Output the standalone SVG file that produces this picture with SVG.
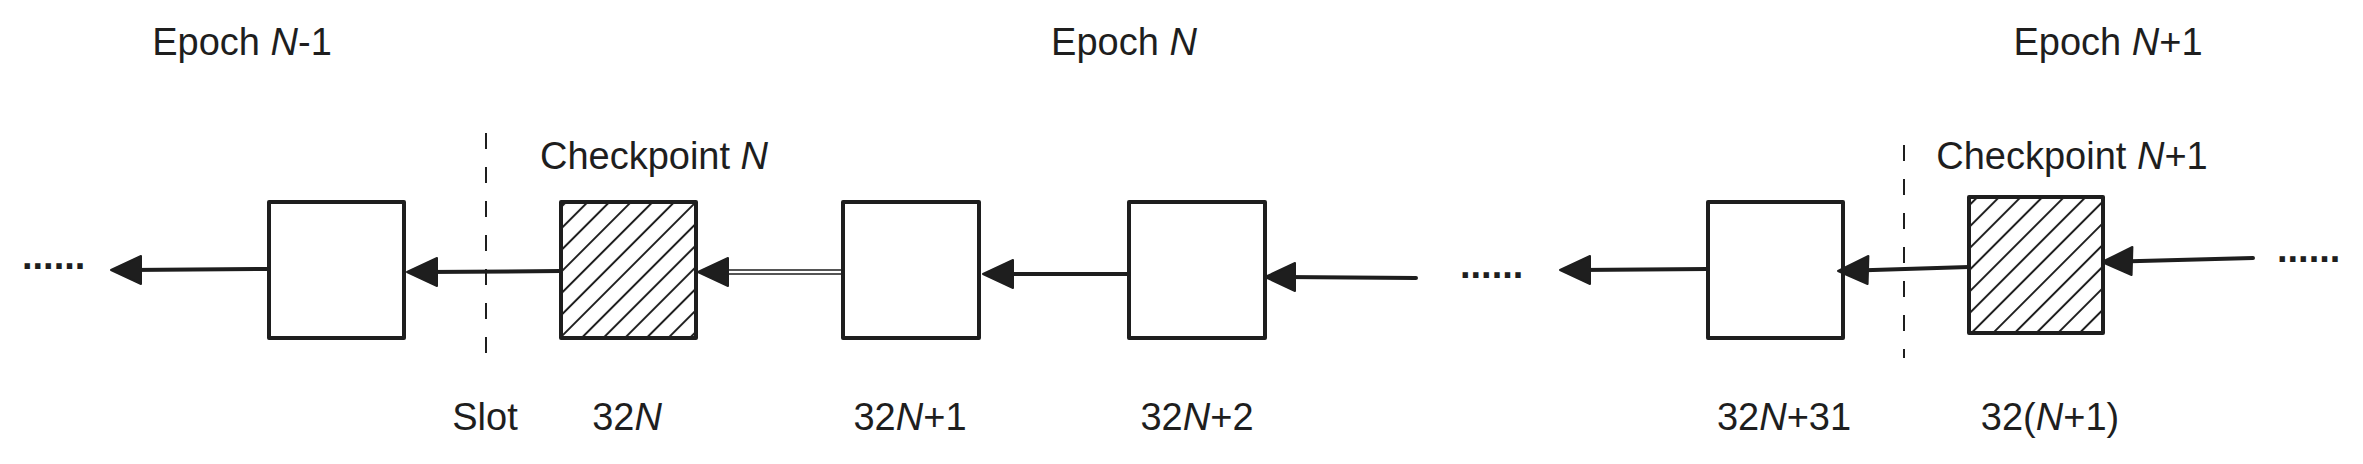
<svg xmlns="http://www.w3.org/2000/svg" width="2363" height="464" viewBox="0 0 2363 464">
  <style>
    .bg { fill: #ffffff; }
    .box { fill: #ffffff; stroke: #1e1e1e; stroke-width: 4; stroke-linejoin: round; }
    .hbox { fill: url(#hatch); stroke: #1e1e1e; stroke-width: 4; stroke-linejoin: round; }
    .txt { font-family: "Liberation Sans", Arial, sans-serif; font-size: 38px; fill: #1e1e1e; }
    .mid { text-anchor: middle; }
    .dots { font-family: "Liberation Sans", Arial, sans-serif; font-size: 38px; font-weight: bold; fill: #1e1e1e; }
    .it { font-style: italic; }
    .edge { fill: none; stroke: #1e1e1e; stroke-width: 4; stroke-linecap: round; }
    .thin { fill: none; stroke: #1e1e1e; stroke-width: 1.6; stroke-linecap: round; }
    .head { fill: #1e1e1e; stroke: #1e1e1e; stroke-width: 2; stroke-linejoin: round; }
    .sep { fill: none; stroke: #1e1e1e; stroke-width: 2; stroke-dasharray: 16 18; }
  </style>
  <defs>
    <pattern id="hatch" width="15.3" height="30" patternUnits="userSpaceOnUse" patternTransform="rotate(45)">
      <line x1="7.65" y1="0" x2="7.65" y2="30" stroke="#1e1e1e" stroke-width="2"/>
    </pattern>
  </defs>
  <rect class="bg" x="0" y="0" width="2363" height="464"/>

  <g id="epoch-labels">
    <text class="txt mid" x="242" y="55">Epoch <tspan class="it">N</tspan>-1</text>
    <text class="txt mid" x="1124" y="55">Epoch <tspan class="it">N</tspan></text>
    <text class="txt mid" x="2108" y="55">Epoch <tspan class="it">N</tspan>+1</text>
  </g>

  <g id="separators">
    <line class="sep" x1="486" y1="133" x2="486" y2="355"/>
    <line class="sep" x1="1904" y1="145" x2="1904" y2="358"/>
  </g>

  <g id="slot-label">
    <text class="txt mid" x="485" y="430">Slot</text>
  </g>

  <g id="node-prev">
    <rect class="box" x="269" y="202" width="135" height="136"/>
  </g>

  <g id="node-checkpoint-n">
    <rect class="hbox" x="561" y="202" width="135" height="136"/>
    <text class="txt mid" x="654" y="169">Checkpoint <tspan class="it">N</tspan></text>
    <text class="txt mid" x="627" y="430">32<tspan class="it">N</tspan></text>
  </g>

  <g id="node-32n1">
    <rect class="box" x="843" y="202" width="136" height="136"/>
    <text class="txt mid" x="910" y="430">32<tspan class="it">N</tspan>+1</text>
  </g>

  <g id="node-32n2">
    <rect class="box" x="1129" y="202" width="136" height="136"/>
    <text class="txt mid" x="1197" y="430">32<tspan class="it">N</tspan>+2</text>
  </g>

  <g id="node-32n31">
    <rect class="box" x="1708" y="202" width="135" height="136"/>
    <text class="txt mid" x="1784" y="430">32<tspan class="it">N</tspan>+31</text>
  </g>

  <g id="node-checkpoint-n1">
    <rect class="hbox" x="1969" y="197" width="134" height="136"/>
    <text class="txt mid" x="2072" y="169">Checkpoint <tspan class="it">N</tspan>+1</text>
    <text class="txt mid" x="2050" y="430">32(<tspan class="it">N</tspan>+1)</text>
  </g>

  <g id="ellipses">
    <text class="dots" x="22" y="269">......</text>
    <text class="dots" x="1460" y="278">......</text>
    <text class="dots" x="2277" y="262">......</text>
  </g>

  <g id="connectors">
    <path class="edge" d="M268,269 L130,270"/>
    <polygon class="head" points="111,270 141,256 141,284"/>

    <path class="edge" d="M561,271 L426,272"/>
    <polygon class="head" points="407,272 437,258 437,286"/>

    <path class="thin" d="M842,270 L725,270"/>
    <path class="thin" d="M842,274 L725,274"/>
    <polygon class="head" points="698,272 728,258 728,286"/>

    <path class="edge" d="M1129,274 L1002,274"/>
    <polygon class="head" points="983,274 1013,260 1013,288"/>

    <path class="edge" d="M1416,278 L1284,277"/>
    <polygon class="head" points="1265,277 1295,263 1295,291"/>

    <path class="edge" d="M1708,269 L1579,270"/>
    <polygon class="head" points="1560,270 1590,256 1590,284"/>

    <path class="edge" d="M1969,267 L1857,270.6"/>
    <polygon class="head" points="1838,271 1868.4,256 1867.6,284"/>

    <path class="edge" d="M2253,258 L2121,261.5"/>
    <polygon class="head" points="2102,262 2132.4,247 2131.6,275"/>
  </g>
</svg>
